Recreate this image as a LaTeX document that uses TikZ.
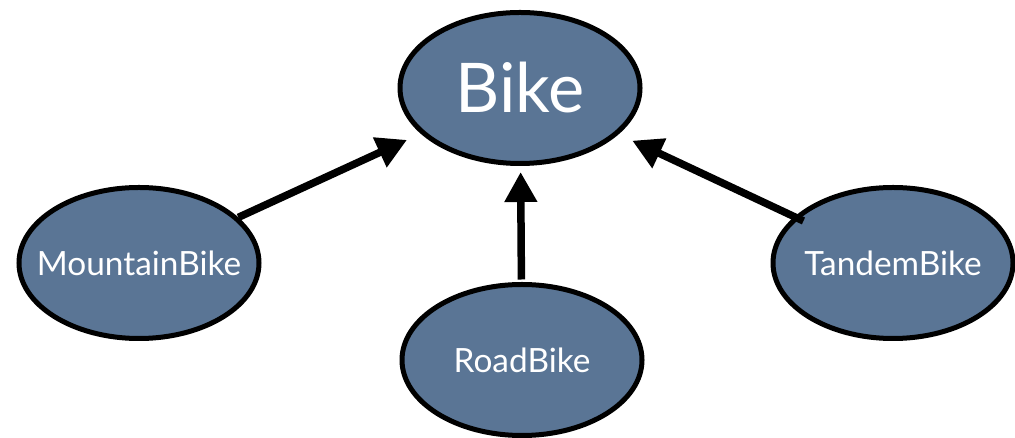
\documentclass[tikz,border=0pt]{standalone}
\usepackage{fontspec}
\setmainfont{Lato}
\usepackage{tikz}
\usetikzlibrary{arrows.meta}
\usetikzlibrary{calc}
\usetikzlibrary{shapes}

\begin{document}
\begin{tikzpicture}[auto]
        \tikzset{>={Triangle[length=0.6cm,width=0.62cm]}}
        \tikzstyle{every path}=[->,line width=0.15cm]
        \tikzstyle{every node}=[ellipse,fill=gfillcolor,draw=black,text=white,line width=0.1cm,minimum width=4.8cm,minimum height=3.02cm,inner sep=1.5pt]
        \tikzstyle{small label}=[font=\fontsize{19}{22}\selectfont,inner xsep=-0.8cm]
        \tikzstyle{big label}=[font=\fontsize{39}{44}\selectfont]

        \useasboundingbox (0cm,0cm) rectangle (20.3cm,-8.76cm);

        \definecolor{gfillcolor}{HTML}{5A7595}
        \node [big label] (nbike) at (10.40cm,-1.76cm) {Bike};
        \node [small label] (nmountain) at (2.78cm,-5.26cm) {MountainBike};
        \node [small label] (nroad) at (10.44cm,-7.20cm) {RoadBike};
        \node [small label] (ntandem) at (17.86cm,-5.26cm) {TandemBike};

        \draw [shorten >=0.3cm] (nmountain) to (nbike);
        \draw [shorten >=0.12cm, shorten <=0.05cm] (nroad) to (nbike);
        \draw [shorten >=0.3cm, shorten <=-0.2cm] (ntandem) to (nbike);
    \end{tikzpicture}
\end{document}
